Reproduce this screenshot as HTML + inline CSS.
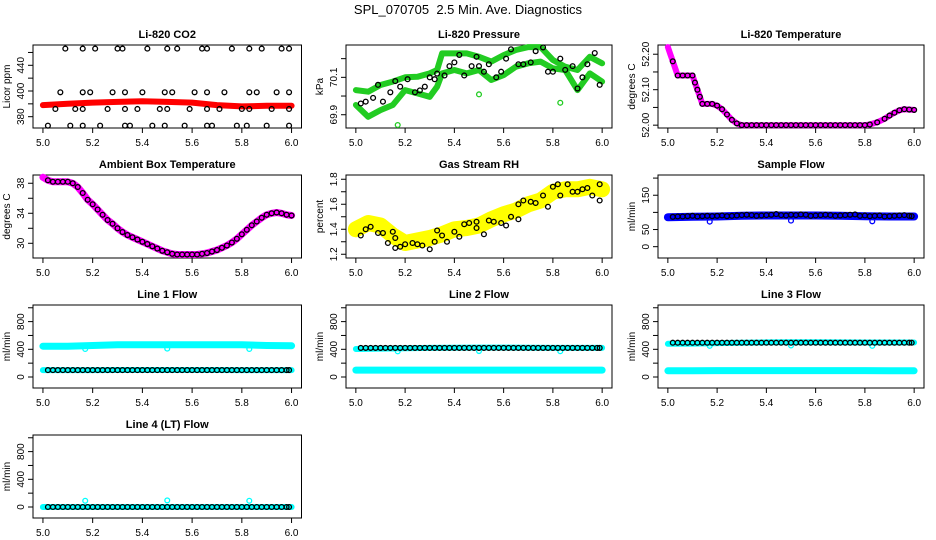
<!DOCTYPE html>
<html><head><meta charset="utf-8">
<style>
html,body{margin:0;padding:0;background:#fff;}
svg{display:block;font-family:"Liberation Sans",Arial,sans-serif;}
</style></head>
<body>
<svg id="chart" width="936" height="540" viewBox="0 0 936 540">
<text x="468" y="14" text-anchor="middle" font-size="13" style="white-space:pre">SPL_070705  2.5 Min. Ave. Diagnostics</text>
</svg>
<script>
// ---- Data ----
const xTicks = [5.0, 5.2, 5.4, 5.6, 5.8, 6.0];
const xTickLabels = ["5.0", "5.2", "5.4", "5.6", "5.8", "6.0"];

// CO2
const co2BandX = [5.0,5.1,5.2,5.3,5.4,5.5,5.6,5.7,5.8,5.9,6.0];
const co2BandY = [389,390,391,391.5,392,391.5,391,389,388,388.5,388.5];
const co2TopX = [5.09,5.16,5.21,5.30,5.32,5.42,5.50,5.54,5.64,5.66,5.76,5.83,5.88,5.96,5.99];
const co2MidX = [5.07,5.16,5.19,5.28,5.33,5.40,5.49,5.52,5.61,5.66,5.73,5.83,5.86,5.94,5.99];
const co2LowX = [5.05,5.13,5.16,5.26,5.33,5.38,5.47,5.50,5.59,5.66,5.71,5.80,5.83,5.92,5.99];
const co2BotX = [5.02,5.11,5.16,5.23,5.33,5.35,5.44,5.49,5.57,5.66,5.68,5.78,5.82,5.90,5.99];
const co2Levels = [433, 399, 386, 373];
const co2Ticks = [380,390,400,410,420,430];
const co2LabelVals = [380,400,420];
const co2LabelText = ["380","400","440"];

// Pressure
const presX = [5.00,5.05,5.10,5.15,5.20,5.25,5.30,5.33,5.35,5.40,5.45,5.50,5.55,5.60,5.65,5.70,5.75,5.80,5.85,5.90,5.95,6.00];
const presBand1 = [70.032,70.023,70.059,70.077,70.100,70.103,70.121,70.139,70.228,70.228,70.228,70.210,70.184,70.219,70.246,70.262,70.262,70.193,70.157,70.139,70.210,70.175];
const presBand2 = [69.952,69.889,69.925,69.952,70.032,70.014,69.996,70.050,70.121,70.139,70.121,70.139,70.086,70.112,70.157,70.175,70.184,70.148,70.139,70.032,70.121,70.077];
const presBlackX = [5.02,5.04,5.07,5.09,5.11,5.14,5.16,5.18,5.21,5.24,5.26,5.28,5.30,5.32,5.33,5.36,5.38,5.40,5.42,5.44,5.47,5.49,5.50,5.52,5.54,5.57,5.59,5.61,5.63,5.66,5.68,5.71,5.73,5.76,5.78,5.80,5.83,5.85,5.88,5.90,5.92,5.94,5.97,5.99];
const presBlackY = [69.96,69.97,69.99,70.06,69.97,70.02,70.08,70.05,70.09,70.02,70.03,70.05,70.10,70.09,70.12,70.11,70.16,70.18,70.22,70.11,70.16,70.21,70.16,70.13,70.17,70.10,70.13,70.20,70.25,70.17,70.17,70.18,70.24,70.26,70.13,70.13,70.20,70.14,70.16,70.04,70.10,70.17,70.23,70.06];
const presOutX = [5.17, 5.50, 5.83];
const presOutY = [69.845, 70.009, 69.964];

// Li-820 temperature
const tempX = [5.00,5.01,5.02,5.04,5.06,5.08,5.10,5.11,5.12,5.13,5.14,5.16,5.18,5.20,5.22,5.24,5.26,5.28,5.30,5.32,5.34,5.36,5.38,5.40,5.42,5.44,5.46,5.48,5.50,5.52,5.54,5.56,5.58,5.60,5.62,5.64,5.66,5.68,5.70,5.72,5.74,5.76,5.78,5.80,5.82,5.85,5.88,5.90,5.92,5.94,5.96,5.98,6.00];
const tempY = [52.22,52.20,52.18,52.14,52.14,52.14,52.14,52.12,52.10,52.08,52.06,52.06,52.06,52.055,52.045,52.03,52.015,52.005,52.0,52.0,52.0,52.0,52.0,52.0,52.0,52.0,52.0,52.0,52.0,52.0,52.0,52.0,52.0,52.0,52.0,52.0,52.0,52.0,52.0,52.0,52.0,52.0,52.0,52.0,52.002,52.008,52.018,52.027,52.035,52.042,52.045,52.044,52.043];

// Ambient box temperature
const ambX = [5.00,5.02,5.04,5.06,5.08,5.10,5.12,5.14,5.16,5.18,5.20,5.22,5.24,5.26,5.28,5.30,5.32,5.34,5.36,5.38,5.40,5.42,5.44,5.46,5.48,5.50,5.52,5.54,5.56,5.58,5.60,5.62,5.64,5.66,5.68,5.70,5.72,5.74,5.76,5.78,5.80,5.82,5.84,5.86,5.88,5.90,5.92,5.94,5.96,5.98,6.00];
const ambY = [38.8,38.4,38.2,38.2,38.2,38.2,38.0,37.5,36.7,35.8,35.2,34.5,33.8,33.1,32.6,32.0,31.5,31.1,30.8,30.5,30.2,29.9,29.6,29.3,29.0,28.8,28.6,28.5,28.5,28.5,28.5,28.5,28.6,28.7,28.9,29.1,29.4,29.7,30.1,30.6,31.2,31.8,32.4,32.9,33.4,33.8,34.0,34.1,34.0,33.8,33.7];

// Gas stream RH
const rhBandX = [5.00,5.05,5.10,5.15,5.20,5.25,5.30,5.35,5.40,5.45,5.50,5.55,5.60,5.65,5.70,5.75,5.80,5.85,5.90,5.95,6.00];
const rhBandY = [1.40,1.45,1.43,1.35,1.29,1.31,1.33,1.36,1.40,1.41,1.43,1.48,1.52,1.55,1.60,1.63,1.70,1.72,1.72,1.74,1.72];
const rhBlackX = [5.02,5.04,5.06,5.09,5.11,5.13,5.15,5.16,5.16,5.18,5.20,5.23,5.25,5.27,5.30,5.32,5.33,5.35,5.37,5.40,5.42,5.44,5.46,5.49,5.49,5.52,5.54,5.56,5.59,5.61,5.63,5.66,5.66,5.68,5.71,5.73,5.76,5.78,5.80,5.82,5.83,5.86,5.88,5.90,5.92,5.94,5.96,5.99,5.99];
const rhBlackY = [1.35,1.40,1.42,1.37,1.37,1.29,1.38,1.33,1.25,1.26,1.28,1.29,1.28,1.27,1.24,1.30,1.39,1.35,1.30,1.38,1.34,1.44,1.45,1.41,1.46,1.36,1.47,1.46,1.45,1.43,1.50,1.48,1.60,1.63,1.62,1.61,1.67,1.58,1.74,1.76,1.67,1.76,1.70,1.70,1.72,1.73,1.67,1.76,1.63];

// Sample flow
const sfX = [5.0,5.1,5.2,5.3,5.4,5.5,5.6,5.7,5.8,5.9,6.0];
const sfY = [86,87,88,90,91,91,91,90,89,88,88];
const sfOutX = [5.17, 5.50, 5.83];
const sfOutY = [73, 76, 74];
const denseX = [5.02,5.04,5.06,5.08,5.10,5.12,5.14,5.16,5.18,5.20,5.22,5.24,5.26,5.28,5.30,5.32,5.34,5.36,5.38,5.40,5.42,5.44,5.46,5.48,5.50,5.52,5.54,5.56,5.58,5.60,5.62,5.64,5.66,5.68,5.70,5.72,5.74,5.76,5.78,5.80,5.82,5.84,5.86,5.88,5.90,5.92,5.94,5.96,5.98,5.99];
const sfBlackY = [87,88,88,89,90,88,89,90,89,90,91,89,90,91,92,93,92,90,91,92,93,95,92,91,93,92,94,93,90,91,92,93,92,90,91,92,93,94,90,91,89,90,91,88,89,90,91,92,90,89];

// Line flows
const flowX = [5.0,5.1,5.2,5.3,5.4,5.5,5.6,5.7,5.8,5.9,6.0];
const line1Cyan = [445,445,455,465,465,465,465,465,465,455,450];
const line1Black = [100,100,100,101,101,101,101,101,100,100,100];
const line2Cyan = [100,100,100,100,100,100,100,100,100,100,100];
const line2Black = [405,410,415,420,422,424,424,422,420,420,420];
const line3Cyan = [90,90,92,92,92,92,92,92,92,90,90];
const line3Black = [480,482,490,495,500,502,502,500,498,498,498];
const line4Black = [0,0,0,0,0,0,0,0,0,0,0];
const line1Level = 100, line2Level = 420, line3Level = 495, line4Level = 0;
const flowOutX = [5.17, 5.50, 5.83];
const flow1OutY = [405, 410, 405];
const flow2OutY = [370, 375, 372];
const flow3OutY = [450, 455, 450];
const flow4OutY = [90, 95, 90];

const flowTicks = [0,200,400,600,800,1000];
const flowLabels = [0,400,800];

// ---- Drawing ----
const svg = document.getElementById('chart');
const NS = 'http://www.w3.org/2000/svg';
const colLeft = [33, 346, 658];
const colRight = [301.5, 612, 924];
function mk(tag, attrs, parent) {
  const e = document.createElementNS(NS, tag);
  for (const k in attrs) e.setAttribute(k, attrs[k]);
  (parent || svg).appendChild(e);
  return e;
}

function makePanel(name, title, ylab, col, row, yMin, yMax, yTicks, yLabels, yFmt) {
  const L = colLeft[col], R = colRight[col], T = 45 + 130 * row, B = 128 + 130 * row;
  const g = mk('g', {});
  
  
  const xs = v => L + (v - 4.96) / 1.08 * (R - L);
  const ys = v => B - (v - yMin) / (yMax - yMin) * (B - T);
  const box = mk('rect', {x: L, y: T, width: R - L, height: B - T, fill: 'none', stroke: '#000', 'stroke-width': 1}, g);
  
  
  const t = mk('text', {x: (L + R) / 2, y: T - 7, 'text-anchor': 'middle', 'font-size': 11, 'font-weight': 'bold'}, g);
  t.textContent = title;
  
  
  const xa = mk('g', {}, g);
  
  
  mk('line', {x1: xs(xTicks[0]), x2: xs(xTicks[xTicks.length - 1]), y1: B, y2: B, stroke: '#000'}, xa);
  xTicks.forEach((v, i) => {
    mk('line', {x1: xs(v), x2: xs(v), y1: B, y2: B + 5, stroke: '#000'}, xa);
    const tl = mk('text', {x: xs(v), y: B + 18, 'text-anchor': 'middle', 'font-size': 10}, xa);
    tl.textContent = xTickLabels[i];
    
    
  });
  const ya = mk('g', {}, g);
  
  
  mk('line', {x1: L, x2: L, y1: ys(yTicks[0]), y2: ys(yTicks[yTicks.length - 1]), stroke: '#000'}, ya);
  yTicks.forEach(v => {
    mk('line', {x1: L - 5, x2: L, y1: ys(v), y2: ys(v), stroke: '#000'}, ya);
  });
  yLabels.forEach((v, i) => {
    const tl = mk('text', {x: 0, y: 0, 'text-anchor': 'middle', 'font-size': 10, transform: `translate(${L - 9},${ys(v)}) rotate(-90)`}, ya);
    tl.textContent = yFmt(v, i);
    
    
  });
  const yt = mk('text', {x: 0, y: 0, 'text-anchor': 'middle', 'font-size': 10, transform: `translate(${L - 23},${(T + B) / 2}) rotate(-90)`}, g);
  yt.textContent = ylab;
  
  
  return {g, xs, ys};
}

function band(p, xArr, yArr, color, w, name) {
  const pts = xArr.map((x, i) => p.xs(x).toFixed(1) + ',' + p.ys(yArr[i]).toFixed(1)).join(' ');
  const pl = mk('polyline', {points: pts, fill: 'none', stroke: color, 'stroke-width': w, 'stroke-linejoin': 'round', 'stroke-linecap': 'round'}, p.g);
  
  
}
function dots(p, xArr, yArr, color, name) {
  const gg = mk('g', {}, p.g);
  
  
  xArr.forEach((x, i) => {
    const c = mk('circle', {cx: p.xs(x), cy: p.ys(yArr[i]), r: 2.4, fill: 'none', stroke: color, 'stroke-width': 1.3}, gg);
    
    
  });
}
const same = (arr, v) => arr.map(() => v);

let p = makePanel('co2', 'Li-820 CO2', 'Licor ppm', 0, 0, 371.2, 435.8, co2Ticks, co2LabelVals, (v, i) => co2LabelText[i]);
band(p, co2BandX, co2BandY, '#ff0000', 6, 'co2-red-series');
dots(p, co2TopX, same(co2TopX, co2Levels[0]), '#000', 'co2-black-top');
dots(p, co2MidX, same(co2MidX, co2Levels[1]), '#000', 'co2-black-mid');
dots(p, co2LowX, same(co2LowX, co2Levels[2]), '#000', 'co2-black-low');
dots(p, co2BotX, same(co2BotX, co2Levels[3]), '#000', 'co2-black-bottom');

p = makePanel('pressure', 'Li-820 Pressure', 'kPa', 1, 0, 69.829, 70.273, [69.9,70.0,70.1,70.2], [69.9,70.1], v => v.toFixed(1));
band(p, presX, presBand1, '#22cc22', 6, 'pressure-green-band-upper');
band(p, presX, presBand2, '#22cc22', 6, 'pressure-green-band-lower');
dots(p, presOutX, presOutY, '#22cc22', 'pressure-green-outliers');
dots(p, presBlackX, presBlackY, '#000', 'pressure-black-series');

p = makePanel('li820-temp', 'Li-820 Temperature', 'degrees C', 2, 0, 51.992, 52.226, [52.0,52.05,52.1,52.15,52.2], [52.0,52.1,52.2], v => v.toFixed(2));
band(p, tempX, tempY, '#ff00ff', 6, 'li820-temp-magenta-series');
dots(p, tempX.slice(2), tempY.slice(2), '#000', 'li820-temp-black-series');

p = makePanel('ambient-temp', 'Ambient Box Temperature', 'degrees C', 0, 1, 28.04, 39.1, [30,32,34,36,38], [30,34,38], v => String(v));
band(p, ambX, ambY, '#ff00ff', 7, 'ambient-magenta-series');
dots(p, ambX.slice(1), ambY.slice(1), '#000', 'ambient-black-series');

p = makePanel('rh', 'Gas Stream RH', 'percent', 1, 1, 1.170, 1.834, [1.2,1.3,1.4,1.5,1.6,1.7,1.8], [1.2,1.4,1.6,1.8], v => v.toFixed(1));
band(p, rhBandX, rhBandY, '#ffff00', 16, 'rh-yellow-series');
dots(p, rhBlackX, rhBlackY, '#000', 'rh-black-series');

p = makePanel('sample-flow', 'Sample Flow', 'ml/min', 2, 1, -33, 209, [0,50,100,150,200], [0,50,150], v => String(v));
band(p, sfX, sfY, '#0000ff', 8, 'sample-flow-blue-series');
dots(p, sfOutX, sfOutY, '#0000ff', 'sample-flow-blue-outliers');
dots(p, denseX, sfBlackY, '#000', 'sample-flow-black-series');

p = makePanel('line1-flow', 'Line 1 Flow', 'ml/min', 0, 2, -159, 1040, flowTicks, flowLabels, v => String(v));
band(p, flowX, line1Cyan, '#00ffff', 7, 'line1-cyan-upper');
band(p, flowX, line1Black, '#00ffff', 6, 'line1-cyan-lower');
dots(p, flowOutX, flow1OutY, '#00ffff', 'line1-cyan-outliers');
dots(p, denseX, same(denseX, line1Level), '#000', 'line1-black-series');

p = makePanel('line2-flow', 'Line 2 Flow', 'ml/min', 1, 2, -159, 1040, flowTicks, flowLabels, v => String(v));
band(p, flowX, line2Black, '#00ffff', 6, 'line2-cyan-upper');
band(p, flowX, line2Cyan, '#00ffff', 7, 'line2-cyan-lower');
dots(p, flowOutX, flow2OutY, '#00ffff', 'line2-cyan-outliers');
dots(p, denseX, same(denseX, line2Level), '#000', 'line2-black-series');

p = makePanel('line3-flow', 'Line 3 Flow', 'ml/min', 2, 2, -159, 1040, flowTicks, flowLabels, v => String(v));
band(p, flowX, line3Black, '#00ffff', 6, 'line3-cyan-upper');
band(p, flowX, line3Cyan, '#00ffff', 7, 'line3-cyan-lower');
dots(p, flowOutX, flow3OutY, '#00ffff', 'line3-cyan-outliers');
dots(p, denseX, same(denseX, line3Level), '#000', 'line3-black-series');

p = makePanel('line4-flow', 'Line 4 (LT) Flow', 'ml/min', 0, 3, -159, 1040, flowTicks, flowLabels, v => String(v));
band(p, flowX, line4Black, '#00ffff', 6, 'line4-cyan-series');
dots(p, flowOutX, flow4OutY, '#00ffff', 'line4-cyan-outliers');
dots(p, denseX, same(denseX, line4Level), '#000', 'line4-black-series');
</script>
</body></html>
